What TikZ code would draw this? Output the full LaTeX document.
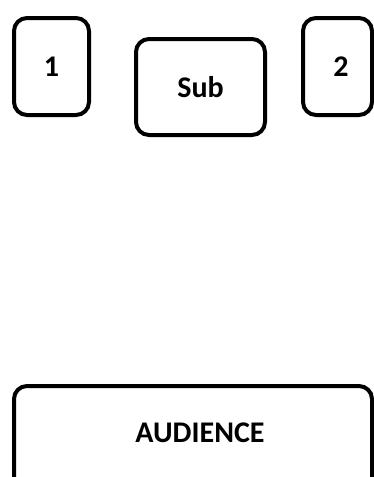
\documentclass[tikz,border=0pt]{standalone}
\usepackage{fontspec}
\setmainfont{Carlito}
\begin{document}
\begin{tikzpicture}[x=1pt,y=-1pt,
  box/.style={draw=black, line width=4pt, rounded corners=13pt, inner sep=0pt,
    font=\fontsize{30}{34}\selectfont\bfseries}]
\useasboundingbox (0,0) rectangle (374,477);
\node[box, minimum width=75pt, minimum height=97pt] (one) at (51.5,66.5) {1};
\node[box, minimum width=129pt, minimum height=96pt] (sub) at (200.5,87) {Sub};
\node[box, minimum width=69pt, minimum height=97pt] (two) at (337.5,66.5) {\hspace*{7pt}2};
\node[box, minimum width=358pt, minimum height=120pt, anchor=north] (aud) at (193,384) {};
\node[font=\fontsize{30}{34}\selectfont\bfseries, inner sep=0pt] (audtext) at (200,433) {AUDIENCE};
\end{tikzpicture}
\end{document}
